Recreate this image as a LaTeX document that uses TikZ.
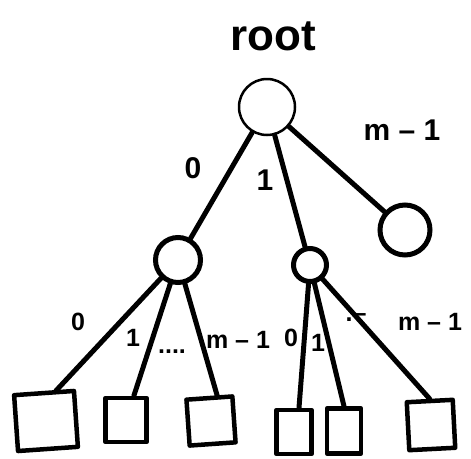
\documentclass[tikz,border=0pt]{standalone}
\usepackage{fontspec}
\setmainfont{Liberation Sans}
\begin{document}
\begin{tikzpicture}[x=1pt,y=-1pt,
  rootnode/.style={circle,draw,line width=2.5pt,minimum size=56pt,inner sep=0pt},
  kid/.style={circle,draw,line width=5pt,inner sep=0pt},
  leaf/.style={rectangle,draw,line width=4.5pt,inner sep=0pt,line join=round},
  edge/.style={line width=5pt,line cap=round},
  big/.style={font=\fontsize{44}{44}\selectfont\bfseries},
  lbl/.style={font=\fontsize{30}{30}\selectfont\bfseries},
  small/.style={font=\fontsize{25}{25}\selectfont\bfseries}]
\useasboundingbox (0,0) rectangle (471,458);

% tree nodes
\node[rootnode] (r) at (267,107) {};
\node[kid,minimum size=45pt] (l) at (178,260) {};
\node[kid,minimum size=33pt] (m) at (310,265) {};
\node[kid,minimum size=50pt] (q) at (405,230) {};

% leaves
\node[leaf,minimum width=60pt,minimum height=56pt,rotate=4] (b1) at (46,421) {};
\node[leaf,minimum width=41pt,minimum height=44pt] (b2) at (126,420) {};
\node[leaf,minimum width=46pt,minimum height=46pt,rotate=4] (b3) at (211,421) {};
\node[leaf,minimum width=35pt,minimum height=44pt] (b4) at (294,432) {};
\node[leaf,minimum width=34pt,minimum height=45pt] (b5) at (344,431) {};
\node[leaf,minimum width=46pt,minimum height=48pt,rotate=3] (b6) at (431,425) {};

% connectors
\draw[edge] (r) -- (l);
\draw[edge] (r) -- (m);
\draw[edge] (r) -- (q);
\draw[edge] (l) -- ([xshift=12pt]b1.north);
\draw[edge] (l) -- (b2);
\draw[edge] (l) -- ([xshift=8pt]b3.north);
\draw[edge] (m) -- ([xshift=5pt]b4.north);
\draw[edge] (m) -- (b5.north);
\draw[edge] (m) -- (b6.north);

% labels
\node[big] (tr) at (273,36) {root};
\node[lbl] (t0) at (193,168) {0};
\node[lbl] (t1) at (265,180) {1};
\node[lbl] (tm) at (402,130) {m – 1};
\node[small] (u0) at (78,322) {0};
\node[small] (u1) at (133,338) {1};
\node[small] (ud) at (172,352) {....};
\node[small] (um) at (238,340) {m – 1};
\node[small] (v0) at (291,338) {0};
\node[small] (v1) at (318,343) {1};
\node[small] (vd) at (356,318) {.–};
\node[small] (vm) at (430,322) {m – 1};
\end{tikzpicture}
\end{document}
